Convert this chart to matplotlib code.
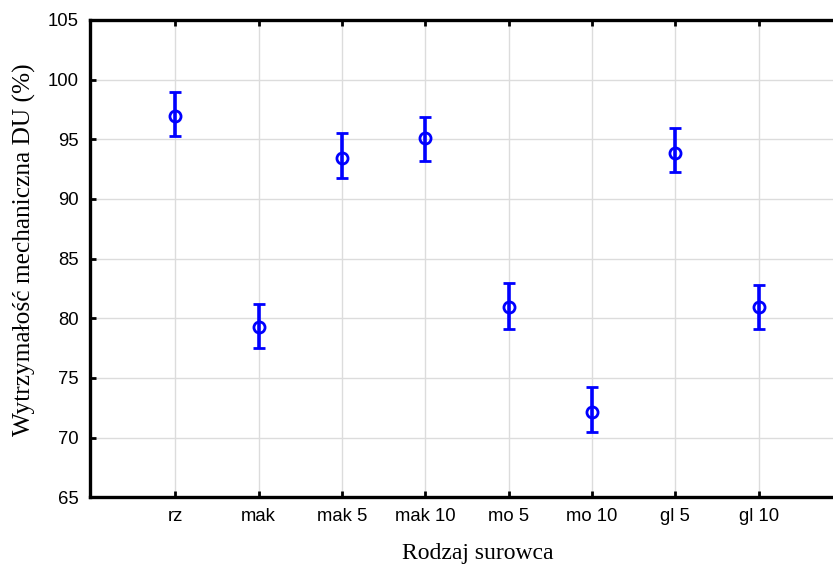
import numpy as np
import matplotlib.pyplot as plt

categories = ["rz", "mak", "mak 5", "mak 10", "mo 5", "mo 10", "gl 5", "gl 10"]
means = [96.95, 79.27, 93.46, 95.08, 80.97, 72.17, 93.88, 80.94]
upper = [98.95, 81.2, 95.55, 96.9, 82.98, 74.26, 95.95, 82.8]
lower = [95.25, 77.5, 91.76, 93.2, 79.07, 70.46, 92.23, 79.1]

x = np.arange(1, len(categories) + 1)
means = np.array(means)
err = [means - np.array(lower), np.array(upper) - means]

fig = plt.figure(figsize=(8.33, 5.67), dpi=100)
ax = fig.add_axes([89.5 / 833, 69.7 / 567, 750 / 833, 477.3 / 567])

ax.errorbar(x, means, yerr=err, fmt="o", color="#0000ff", ecolor="#0000ff",
            elinewidth=2.6, capsize=4, capthick=2.6, markersize=8,
            markerfacecolor="none", markeredgewidth=2, zorder=3)

ax.set_xlim(-0.03, 8.97)
ax.set_ylim(65, 105)
ax.set_yticks(np.arange(65, 106, 5))
ax.set_xticks(x)
ax.set_xticklabels(categories)

ax.grid(True, color="#dcdcdc", linewidth=1)
ax.set_axisbelow(True)

for s in ["left", "top", "bottom"]:
    ax.spines[s].set_linewidth(2.4)
ax.spines["right"].set_visible(False)

ax.tick_params(direction="in", length=4, width=2, top=True, labelsize=13.3,
               pad=8)
for lab in ax.get_xticklabels() + ax.get_yticklabels():
    lab.set_family("Liberation Sans")

ax.set_xlabel("Rodzaj surowca", family="Liberation Serif", fontsize=17)
ax.set_ylabel("Wytrzymałość mechaniczna DU (%)", family="Liberation Serif",
              fontsize=18.3)
ax.xaxis.set_label_coords(0.517, -0.095)
ax.yaxis.set_label_coords(-0.071, 0.518)

fig.savefig("out.png", dpi=100)
